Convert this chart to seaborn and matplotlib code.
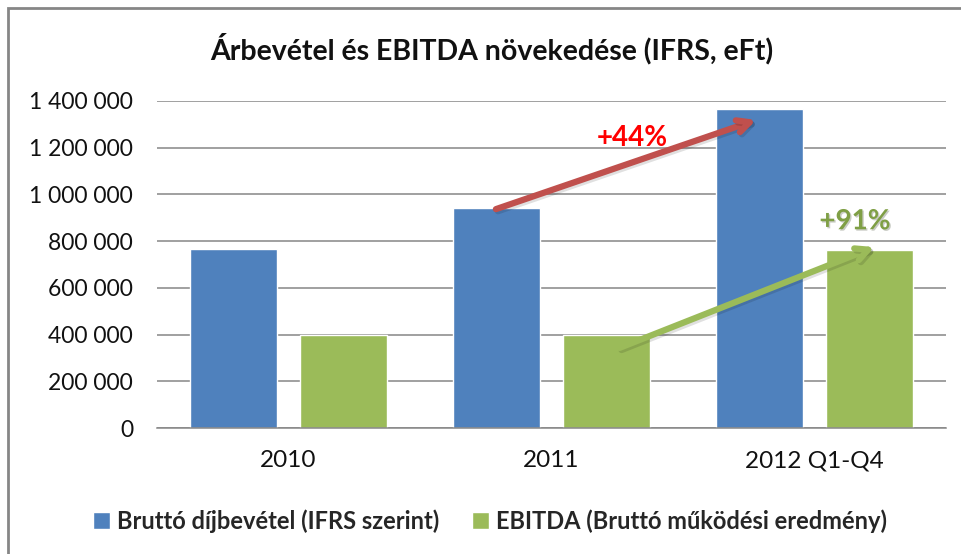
import matplotlib
matplotlib.use('Agg')
import matplotlib.pyplot as plt
import matplotlib.patheffects as pe
from matplotlib.patches import Rectangle
from matplotlib.ticker import FuncFormatter, MultipleLocator
import pandas as pd
import seaborn as sns

# values (eFt)
years = ['2010', '2011', '2012 Q1-Q4']
revenue = [766000, 941000, 1364000]
ebitda = [397000, 397000, 762000]
series_names = ['Bruttó díjbevétel (IFRS szerint)',
                'EBITDA (Bruttó működési eredmény)']
growth_labels = ['+44%', '+91%']
title = 'Árbevétel és EBITDA növekedése (IFRS, eFt)'

df = pd.DataFrame({
    'year': years * 2,
    'value': revenue + ebitda,
    'series': [series_names[0]] * 3 + [series_names[1]] * 3,
})

sns.set_style('white')
plt.rcParams['font.family'] = ['Lato', 'DejaVu Sans']

fig = plt.figure(figsize=(9.61, 5.54), dpi=100)
ax = fig.add_axes([0.163, 0.227, 0.821, 0.591])

sns.barplot(data=df, x='year', y='value', hue='series', ax=ax,
            palette=['#4F81BD', '#9BBB59'], width=0.837, gap=0.21,
            saturation=1, legend=True)

ax.set_ylim(0, 1400000)
ax.set_xlim(-0.5, 2.5)
ax.yaxis.set_major_locator(MultipleLocator(200000))
ax.yaxis.set_major_formatter(FuncFormatter(
    lambda v, p: f'{int(v):,}'.replace(',', ' ')))
ax.grid(axis='y', color='#868686', linewidth=1.1)
ax.set_axisbelow(True)
for s in ['left', 'right', 'top']:
    ax.spines[s].set_visible(False)
ax.spines['bottom'].set_color('#868686')
ax.spines['bottom'].set_linewidth(1.1)
ax.tick_params(axis='both', length=0, colors='#111111')
ax.tick_params(axis='y', pad=17, labelsize=16.5)
ax.tick_params(axis='x', pad=16, labelsize=17.5)
ax.set_xlabel('')
ax.set_ylabel('')

# growth arrows, anchored on the bars they connect
shadow = [pe.SimpleLineShadow(offset=(1.5, -1.5), alpha=0.12), pe.Normal()]
ax.annotate('', xy=(1.79, revenue[2] - 42000), xytext=(0.78, revenue[1] - 8000),
            arrowprops=dict(arrowstyle='->, head_length=0.9, head_width=0.45',
                            color='#C0504D', lw=4.5,
                            path_effects=shadow))
ax.annotate('', xy=(2.24, ebitda[2] + 17000), xytext=(1.25, ebitda[1] - 58000),
            arrowprops=dict(arrowstyle='->, head_length=0.9, head_width=0.45',
                            color='#9BBB59', lw=4.5,
                            path_effects=shadow))
ax.text(1.31, 1240000, growth_labels[0], color='#FF0000', fontsize=20,
        fontweight='bold', ha='center', va='center')
ax.text(2.155, 885000, growth_labels[1], color='#7F9F45', fontsize=20,
        fontweight='bold', ha='center', va='center',
        path_effects=[pe.withSimplePatchShadow(offset=(1, -1), alpha=0.25)])

fig.text(0.512, 0.912, title, ha='center', va='center', fontsize=20.5,
         fontweight='bold', color='#111111')

leg = ax.legend(loc='center', bbox_to_anchor=(0.51, 0.06),
                bbox_transform=fig.transFigure, ncol=2, frameon=False,
                handlelength=0.7, handleheight=0.7, handletextpad=0.3,
                columnspacing=1.4, prop={'size': 17, 'weight': 'bold'})

# chart frame
fig.patches.append(Rectangle((0.0083, -0.05), 1.0, 1.036,
                             transform=fig.transFigure, fill=False,
                             edgecolor='#868686', linewidth=2))

fig.savefig('out.png', dpi=100)
